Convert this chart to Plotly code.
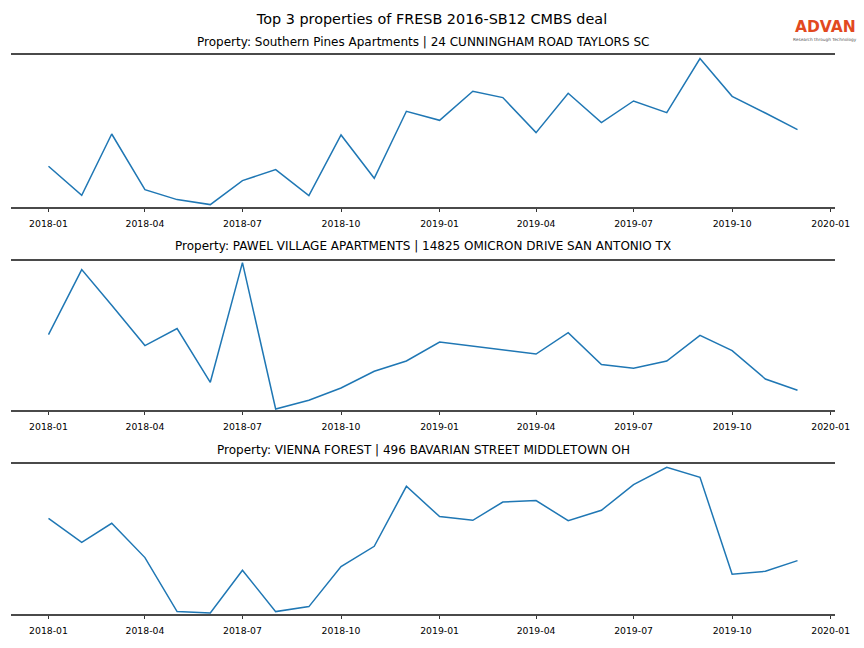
import plotly.graph_objects as go
import pandas as pd

months = pd.date_range("2018-01-01", "2019-12-01", freq="MS").strftime("%Y-%m-%d").tolist()

titles = [
    "Property: Southern Pines Apartments | 24 CUNNINGHAM ROAD TAYLORS SC",
    "Property: PAWEL VILLAGE APARTMENTS | 14825 OMICRON DRIVE SAN ANTONIO TX",
    "Property: VIENNA FOREST | 496 BAVARIAN STREET MIDDLETOWN OH",
]

# relative activity values (arbitrary units)
southern_pines = [40.7, 11.7, 73.0, 17.4, 7.4, 2.4, 26.4, 37.4, 11.4, 72.0, 28.7, 95.7,
                  86.7, 115.7, 109.4, 74.4, 113.7, 84.4, 106.0, 94.4, 148.4, 110.7, 94.0, 77.4]
pawel_village = [75.4, 140.4, 104.7, 64.4, 81.4, 27.7, 147.4, 1.0, 9.7, 22.0, 38.7, 49.0,
                 68.0, 63.8, 60.2, 56.0, 77.4, 45.4, 41.7, 49.0, 74.7, 59.4, 31.0, 19.7]
vienna_forest = [95.7, 71.7, 90.7, 56.4, 2.4, 1.0, 43.7, 2.4, 7.4, 47.4, 67.7, 127.7,
                 97.4, 93.7, 112.0, 113.4, 93.4, 103.7, 129.4, 146.7, 136.7, 39.7, 42.7, 53.4]

series = [southern_pines, pawel_village, vienna_forest]
y_ranges = [[0, 152], [0, 149], [0, 150]]

tick_dates = pd.date_range("2018-01-01", "2020-01-01", freq="3MS")
tick_vals = tick_dates.strftime("%Y-%m-%d").tolist()
tick_text = tick_dates.strftime("%Y-%m").tolist()

W, H = 864, 648
L, R = 11, 835
top_px, bot_px = 55, 614
span = bot_px - top_px
panels_px = [(55, 207), (261, 410), (464, 614)]
title_px = [42, 246, 450]

fig = go.Figure()
spine = "#4a4a4a"
for i, (vals, yr) in enumerate(zip(series, y_ranges)):
    n = "" if i == 0 else str(i + 1)
    fig.add_trace(go.Scatter(x=months, y=vals, mode="lines",
                             line=dict(color="#1f77b4", width=1.5),
                             xaxis="x" + n, yaxis="y" + n, showlegend=False))
    t, b = panels_px[i]
    dom = [(bot_px - b) / span, (bot_px - t) / span]
    fig.update_layout(**{
        "xaxis" + n: dict(domain=[0, 1], anchor="y" + n, type="date",
                          range=["2017-11-27", "2020-01-05"],
                          tickvals=tick_vals, ticktext=tick_text,
                          ticks="outside", ticklen=3.5, tickwidth=0.8, tickcolor="#333",
                          ticklabelstandoff=4,
                          showline=True, mirror=True, linecolor=spine, linewidth=1.6,
                          showgrid=False, zeroline=False,
                          tickfont=dict(family="DejaVu Sans", size=9.3, color="#000")),
        "yaxis" + n: dict(domain=dom, anchor="x" + n, range=yr, visible=False,
                          showgrid=False, zeroline=False),
    })
    fig.add_annotation(text=titles[i], x=0.5, xref="paper",
                       y=(bot_px - title_px[i]) / span, yref="paper",
                       xanchor="center", yanchor="middle", showarrow=False,
                       font=dict(family="DejaVu Sans", size=12, color="#000"))

# logo
fig.add_annotation(text="<b>ADVAN</b>", x=(825 - L) / (R - L), y=(bot_px - 26.7) / span,
                   xref="paper", yref="paper",
                   showarrow=False, xanchor="center", yanchor="middle",
                   font=dict(family="DejaVu Sans", size=15.5, color="#E2491F"))
fig.add_annotation(text="Research through Technology", x=(825 - L) / (R - L),
                   y=(bot_px - 39.5) / span,
                   xref="paper", yref="paper", showarrow=False,
                   xanchor="center", yanchor="middle",
                   font=dict(family="DejaVu Sans", size=4.3, color="#555"))

fig.update_layout(
    width=W, height=H,
    margin=dict(l=L, r=W - R, t=top_px, b=H - bot_px),
    paper_bgcolor="white", plot_bgcolor="white",
    title=dict(text="Top 3 properties of FRESB 2016-SB12 CMBS deal",
               x=0.5, xanchor="center", y=1 - 19 / H, yanchor="middle",
               font=dict(family="DejaVu Sans", size=14.4, color="#000")),
)
fig.write_html("out.html", config={"displayModeBar": False},
               post_script="document.body.style.margin='0';")
